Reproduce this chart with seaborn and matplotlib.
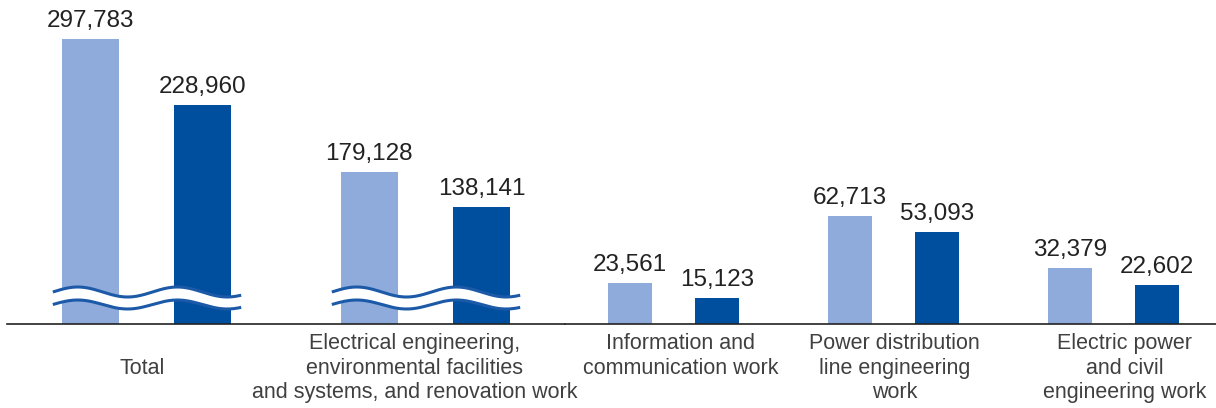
import numpy as np
import pandas as pd
import matplotlib.pyplot as plt
import seaborn as sns

# Data
categories = [
    "Total",
    "Electrical engineering,\nenvironmental facilities\nand systems, and renovation work",
    "Information and\ncommunication work",
    "Power distribution\nline engineering\nwork",
    "Electric power\nand civil\nengineering work",
]
series = ["Previous year", "Current year"]
prev_values = [297783, 179128, 23561, 62713, 32379]
curr_values = [228960, 138141, 15123, 53093, 22602]
# the two tall groups are drawn on a compressed (broken) scale
compress = [0.553, 0.4905, 1, 1, 1]

LIGHT = "#8eabdc"
DARK = "#004f9f"
WAVE = "#1c5aa8"

sns.set_theme(style="white")
plt.rcParams["font.family"] = ["Liberation Sans", "DejaVu Sans"]

rows = []
for i, cat in enumerate(categories):
    rows.append((cat, series[0], prev_values[i], prev_values[i] * compress[i]))
    rows.append((cat, series[1], curr_values[i], curr_values[i] * compress[i]))
df = pd.DataFrame(rows, columns=["category", "series", "value", "shown"])

fig = plt.figure(figsize=(12.16, 4.08), dpi=100)
W, H = 1216, 408
axL = fig.add_axes([7 / W, 84 / H, 558 / W, 324 / H])
axR = fig.add_axes([565 / W, 84 / H, 651 / W, 324 / H])

ymax = 324 / 0.00173
groups = [
    (axL, categories[:2], 0.807, (-0.5, 1.493)),
    (axR, categories[2:], 0.795, (-0.493, 2.466)),
]
nudges = {0: (-3, -32, "center"), 1: (-8, -6.5, "top"), 2: (5, -6.5, "top"),
          3: (1, -6.5, "top"), 4: (8, -6.5, "top")}

for ax, cats, width, xlim in groups:
    sub = df[df["category"].isin(cats)]
    sns.barplot(data=sub, x="category", y="shown", hue="series", order=cats,
                hue_order=series, palette=[LIGHT, DARK], saturation=1,
                width=width, gap=0.496, linewidth=0, legend=False, ax=ax)
    for s, cont in zip(series, ax.containers):
        vals = sub[sub["series"] == s].set_index("category").loc[cats, "value"]
        ax.bar_label(cont, labels=[f"{v:,}" for v in vals], padding=5,
                     fontsize=17.5, color="#222222")
    ax.set_xlim(*xlim)
    ax.set_ylim(0, ymax)
    ax.set_xlabel("")
    ax.set_ylabel("")
    ax.set_xticks([])
    ax.set_yticks([])
    for sp in ["top", "left", "right"]:
        ax.spines[sp].set_visible(False)
    ax.spines["bottom"].set_color("#222222")
    ax.spines["bottom"].set_linewidth(1.2)
    for j, cat in enumerate(cats):
        k = categories.index(cat)
        dx, dy, va = nudges[k]
        ax.annotate(cat, xy=(j, 0), xytext=(dx, dy), textcoords="offset points",
                    ha="center", va=va, fontsize=15.5, linespacing=1.22,
                    color="#404040", annotation_clip=False)

# boundary ticks on the baseline
axL.set_xticks([0.5, 1.5], minor=True)
axL.tick_params(axis="x", which="minor", length=3, direction="inout",
                color="#555555", width=1, labelbottom=False)

# wavy break marks across the compressed groups
px_x = 558 / (1.493 + 0.5)
px_y = 324 / ymax
t = np.linspace(-94, 95, 300)
for j in range(2):
    if compress[j] == 1:
        continue
    xs = j + t / px_x
    ph = np.cos(2 * np.pi * (t + 69) / 100)
    upper = (32 + 5 * ph) / px_y
    lower = (19.5 + 4.5 * ph) / px_y
    axL.fill_between(xs, lower, upper, color="white", zorder=4, linewidth=0)
    axL.plot(xs, upper, color=WAVE, lw=2.2, zorder=5, solid_capstyle="butt")
    axL.plot(xs, lower, color=WAVE, lw=2.2, zorder=5, solid_capstyle="butt")

fig.savefig("out.png", dpi=100)
